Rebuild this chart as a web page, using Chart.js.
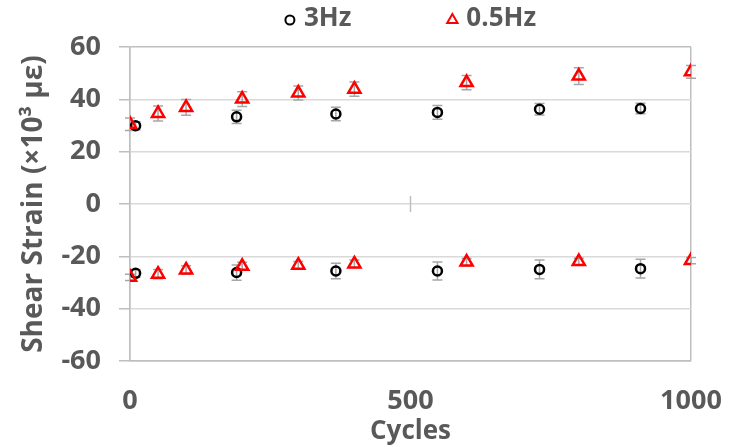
<!DOCTYPE html>
<html>
<head>
<meta charset="utf-8">
<script src="https://cdn.jsdelivr.net/npm/chart.js@4.4.1/dist/chart.umd.min.js"></script>
<style>
  html, body { margin: 0; padding: 0; background: #fff; }
  #wrap { width: 734px; height: 447px; }
</style>
</head>
<body>
<div id="wrap"><canvas id="myChart"></canvas></div>
<script>
// shear strain vs cycles, upper and lower peaks for each loading frequency
const cycles_3hz = [10, 190, 367, 548, 730, 910]
const upper_3hz = [29.9, 33.3, 34.4, 35.0, 36.2, 36.5]
const upper_3hz_err = [1.5, 2.5, 2.6, 2.6, 2.2, 2.0]
const lower_3hz = [-26.5, -26.2, -25.6, -25.6, -25.0, -24.7]
const lower_3hz_err = [1.5, 2.9, 3.0, 3.4, 3.6, 3.6]

const cycles_05hz = [0, 50, 100, 200, 300, 400, 600, 800, 1000]
const upper_05hz = [30.5, 34.6, 36.9, 40.1, 42.4, 43.9, 46.4, 48.9, 50.5]
const upper_05hz_err = [2.4, 2.9, 3.0, 2.8, 2.7, 2.7, 2.7, 3.2, 2.4]
const lower_05hz = [-28.0, -26.8, -25.2, -23.8, -23.4, -22.9, -22.2, -22.0, -21.6]
const lower_05hz_err = [1.2, 1.8, 1.6, 1.5, 1.4, 1.5, 1.4, 1.3, 1.2]

const x_ticks = [0, 500, 1000]
const y_ticks = [-60, -40, -20, 0, 20, 40, 60]

const gray_text = '#595959'
const axis_gray = '#bfbfbf'
const grid_gray = '#d9d9d9'
const font_family = "'Open Sans', 'DejaVu Sans', sans-serif"

function points(cycles, upper, lower){
  const pts = []
  cycles.forEach((c, i) => pts.push({x: c, y: upper[i]}))
  cycles.forEach((c, i) => pts.push({x: c, y: lower[i]}))
  return pts
}

// vertical error bars with caps, drawn under the markers
const errorBars = {
  id: 'errorBars',
  beforeDatasetsDraw(chart){
    const {ctx, scales: {x, y}} = chart
    ctx.save()
    ctx.strokeStyle = '#a6a6a6'
    ctx.lineWidth = 1.5
    chart.data.datasets.forEach(ds => {
      ds.data.forEach((p, i) => {
        const e = ds.errors[i]
        const px = x.getPixelForValue(p.x)
        const y1 = y.getPixelForValue(p.y + e)
        const y2 = y.getPixelForValue(p.y - e)
        ctx.beginPath()
        ctx.moveTo(px, y1); ctx.lineTo(px, y2)
        ctx.moveTo(px - 5, y1); ctx.lineTo(px + 5, y1)
        ctx.moveTo(px - 5, y2); ctx.lineTo(px + 5, y2)
        ctx.stroke()
      })
    })
    ctx.restore()
  }
}

// tick mark where the horizontal axis crosses y = 0
const midTick = {
  id: 'midTick',
  beforeDatasetsDraw(chart){
    const {ctx, scales: {x, y}} = chart
    const px = x.getPixelForValue(500)
    const py = y.getPixelForValue(0)
    ctx.save()
    ctx.strokeStyle = axis_gray
    ctx.lineWidth = 1.5
    ctx.beginPath()
    ctx.moveTo(px, py - 8); ctx.lineTo(px, py + 8)
    ctx.stroke()
    ctx.restore()
  }
}

// legend row centred over the plot area
const topLegend = {
  id: 'topLegend',
  afterDraw(chart){
    const {ctx, chartArea} = chart
    const cx = (chartArea.left + chartArea.right) / 2
    const cy = 19
    const gap = 96
    ctx.save()
    ctx.font = `bold 26px ${font_family}`
    ctx.textBaseline = 'middle'
    const items = chart.data.datasets.map(ds => ({ds, w: 19 + ctx.measureText(ds.label).width}))
    const total = items.reduce((s, it) => s + it.w, 0) + gap * (items.length - 1)
    let xpos = cx - total / 2
    items.forEach(it => {
      ctx.strokeStyle = it.ds.borderColor
      ctx.fillStyle = 'rgba(0,0,0,0)'
      ctx.lineWidth = 2
      Chart.helpers.drawPoint(ctx, {pointStyle: it.ds.pointStyle, radius: it.ds.pointStyle === 'triangle' ? 6 : 4.5, borderWidth: 2}, xpos + 5, cy + 1)
      ctx.fillStyle = gray_text
      ctx.fillText(it.ds.label, xpos + 19, cy)
      xpos += it.w + gap
    })
    ctx.restore()
  }
}

const ctx = document.getElementById('myChart')

new Chart(ctx, {
  type: 'scatter',
  data: {
    datasets: [
      {
        label: '3Hz',
        data: points(cycles_3hz, upper_3hz, lower_3hz),
        errors: upper_3hz_err.concat(lower_3hz_err),
        pointStyle: 'circle',
        pointRadius: 4.5,
        pointBorderWidth: 2.5,
        borderColor: '#000000',
        backgroundColor: 'rgba(0,0,0,0)',
        order: 2
      },
      {
        label: '0.5Hz',
        data: points(cycles_05hz, upper_05hz, lower_05hz),
        errors: upper_05hz_err.concat(lower_05hz_err),
        pointStyle: 'triangle',
        pointRadius: 7,
        pointBorderWidth: 2.5,
        borderColor: '#ff0000',
        backgroundColor: 'rgba(0,0,0,0)',
        order: 1
      }
    ]
  },
  options: {
    responsive: true,
    maintainAspectRatio: false,
    animation: false,
    layout: { padding: { top: 47, right: 43, left: 0, bottom: 0 } },
    plugins: {
      legend: { display: false },
      tooltip: { enabled: false }
    },
    scales: {
      x: {
        type: 'linear',
        min: 0,
        max: 1000,
        afterBuildTicks: scale => { scale.ticks = x_ticks.map(v => ({value: v})) },
        afterFit: scale => {
          scale.height = 86
          scale.paddingLeft = 0
          scale.paddingRight = 0
        },
        grid: {
          drawTicks: false,
          lineWidth: 1.5,
          color: c => (c.tick && (c.tick.value === 0 || c.tick.value === 1000)) ? axis_gray : 'rgba(0,0,0,0)'
        },
        border: { display: true, color: axis_gray, width: 1.5 },
        ticks: {
          padding: 24,
          color: gray_text,
          callback: v => String(v),
          font: { family: font_family, size: 27, weight: 'bold' }
        },
        title: {
          display: true,
          text: 'Cycles',
          color: gray_text,
          padding: 0,
          font: { family: font_family, size: 26, weight: 'bold' }
        }
      },
      y: {
        min: -60,
        max: 60,
        afterBuildTicks: scale => { scale.ticks = y_ticks.map(v => ({value: v})) },
        afterFit: scale => {
          scale.width = 130
          scale.paddingTop = 0
          scale.paddingBottom = 0
        },
        grid: {
          lineWidth: 1.5,
          tickLength: 11,
          color: c => (c.tick && Math.abs(c.tick.value) === 60) ? axis_gray : grid_gray,
          tickColor: axis_gray
        },
        border: { display: true, color: axis_gray, width: 1.5 },
        ticks: {
          padding: 18,
          color: gray_text,
          callback: v => String(v),
          font: { family: font_family, size: 27, weight: 'bold' }
        },
        title: {
          display: true,
          text: 'Shear Strain (×10³ με)',
          color: gray_text,
          padding: { top: 17, bottom: 0 },
          font: { family: font_family, size: 28, weight: 'bold' }
        }
      }
    }
  },
  plugins: [errorBars, midTick, topLegend]
})
</script>
</body>
</html>
